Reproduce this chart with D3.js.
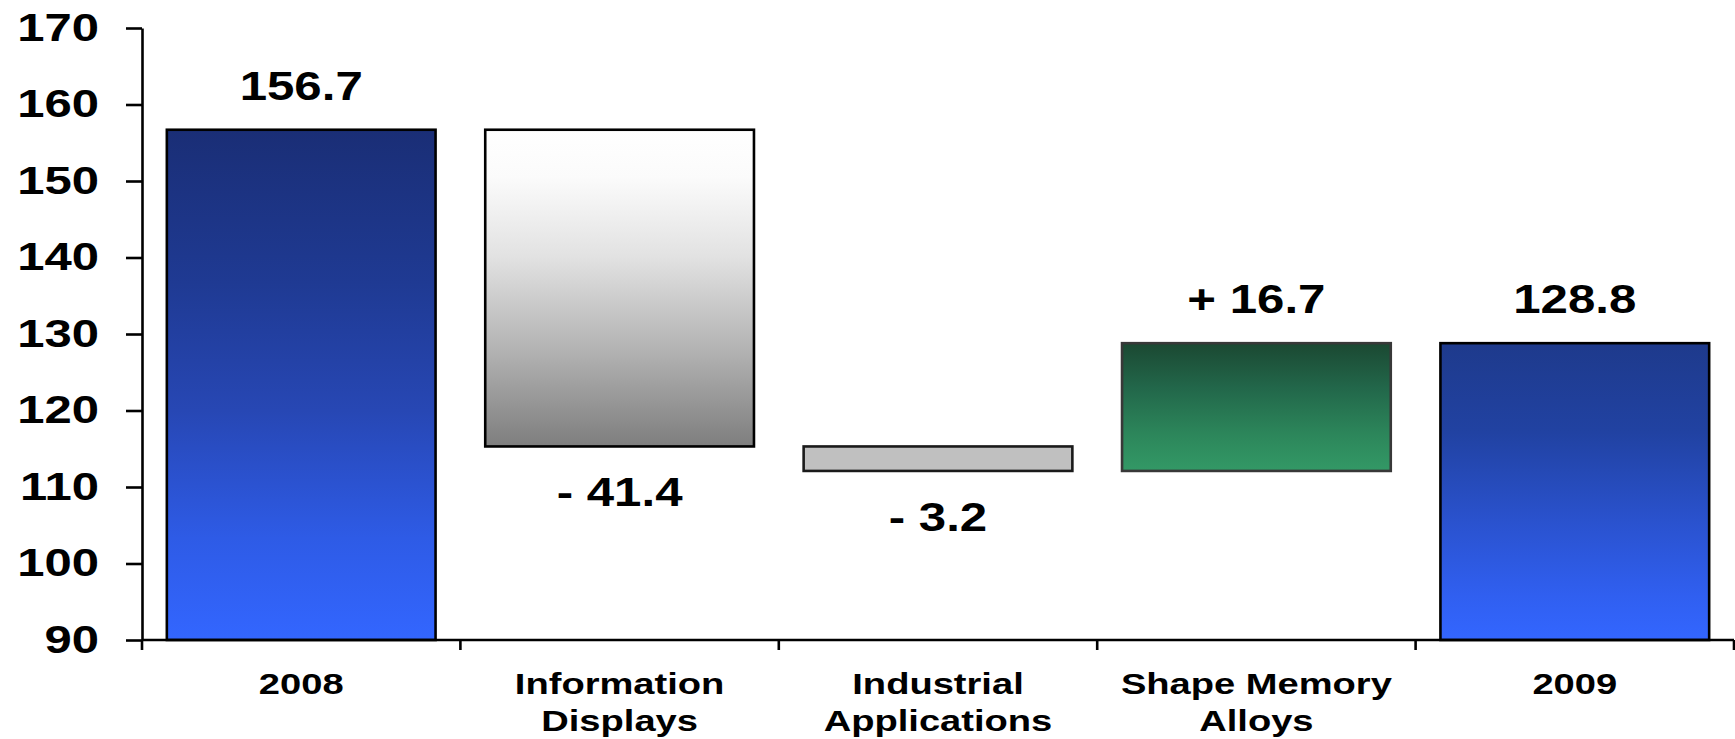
<!DOCTYPE html>
<html>
<head>
<meta charset="utf-8">
<script src="https://cdn.jsdelivr.net/npm/d3@7"></script>
<style>
  html, body { margin: 0; padding: 0; background: #ffffff; }
  svg { display: block; }
  text { font-family: "Liberation Sans", Arial, sans-serif; font-weight: bold; fill: #000; }
</style>
</head>
<body>
<script>
// ---- data ----
const categories = ["2008", "Information Displays", "Industrial Applications", "Shape Memory Alloys", "2009"];
const values = [156.7, -41.4, -3.2, 16.7, 128.8];
const kinds = ["total", "delta", "delta", "delta", "total"];
const yTicks = [90, 100, 110, 120, 130, 140, 150, 160, 170];

// ---- layout ----
const W = 1735, H = 739;
const plotLeft = 142, plotRight = 1734, plotTop = 28, plotBottom = 640;

const svg = d3.select("body").append("svg").attr("width", W).attr("height", H);
const defs = svg.append("defs");

function grad(id, stops) {
  const g = defs.append("linearGradient").attr("id", id)
    .attr("x1", 0).attr("y1", 0).attr("x2", 0).attr("y2", 1);
  stops.forEach(s => g.append("stop").attr("offset", s[0]).attr("stop-color", s[1]));
}
grad("gBlue", [[0, "#1A2E76"], [0.3, "#1F3A93"], [0.55, "#2747B4"], [0.8, "#2E5BE6"], [1, "#3366FF"]]);
grad("gBlue2", [[0, "#1E3A8C"], [0.3, "#2142A2"], [0.6, "#2A52CE"], [0.85, "#305FF0"], [1, "#3366FF"]]);
grad("gGray", [[0, "#FFFFFF"], [0.15, "#FBFBFB"], [0.4, "#E2E2E2"], [0.7, "#B2B2B2"], [1, "#7E7E7E"]]);
grad("gGreen", [[0, "#1B4832"], [0.35, "#22674A"], [0.7, "#2C855A"], [1, "#339966"]]);

const barStyle = {
  "2008": { fill: "url(#gBlue)", stroke: "#000" },
  "Information Displays": { fill: "url(#gGray)", stroke: "#000" },
  "Industrial Applications": { fill: "#C0C0C0", stroke: "#1A1A1A" },
  "Shape Memory Alloys": { fill: "url(#gGreen)", stroke: "#383838" },
  "2009": { fill: "url(#gBlue2)", stroke: "#000" }
};

// ---- waterfall computation ----
let run = 0;
const bars = categories.map((c, i) => {
  let lo, hi, label;
  if (kinds[i] === "total") {
    run = values[i];
    lo = null; hi = values[i];
    label = values[i].toFixed(1);
  } else {
    const start = run; run = run + values[i];
    lo = Math.min(start, run); hi = Math.max(start, run);
    label = (values[i] < 0 ? "- " : "+ ") + Math.abs(values[i]).toFixed(1);
  }
  return { cat: c, kind: kinds[i], v: values[i], lo, hi, label };
});

const y = d3.scaleLinear().domain([yTicks[0], yTicks[yTicks.length - 1]]).range([plotBottom, plotTop]);
const x = d3.scaleBand().domain(categories).range([plotLeft, plotRight]).paddingInner(0.156).paddingOuter(0.078);

// ---- bars ----
svg.append("g").selectAll("rect").data(bars).join("rect")
  .attr("x", d => x(d.cat))
  .attr("width", x.bandwidth())
  .attr("y", d => y(d.hi))
  .attr("height", d => y(d.lo === null ? y.domain()[0] : d.lo) - y(d.hi))
  .attr("fill", d => barStyle[d.cat].fill)
  .attr("stroke", d => barStyle[d.cat].stroke)
  .attr("stroke-width", 2.6);

// ---- value labels ----
svg.append("g").selectAll("g").data(bars).join("g")
  .attr("transform", d => {
    const cx = x(d.cat) + x.bandwidth() / 2;
    const yy = d.v < 0 ? y(d.lo) + 60 : y(d.hi) - 30;
    return `translate(${cx},${yy})`;
  })
  .append("text")
  .attr("text-anchor", "middle")
  .attr("font-size", 40)
  .attr("transform", "scale(1.23,1)")
  .text(d => d.label);

// ---- y axis ----
const yAxis = svg.append("g").attr("transform", `translate(${plotLeft},0)`)
  .call(d3.axisLeft(y).tickValues(yTicks).tickSize(16).tickSizeOuter(0).tickFormat(d3.format("d")));
yAxis.select(".domain").attr("stroke", "#000").attr("stroke-width", 2.6);
yAxis.selectAll(".tick line").attr("stroke", "#000").attr("stroke-width", 2.6);
yAxis.selectAll(".tick text")
  .attr("x", 0)
  .attr("font-size", 38)
  .attr("font-family", "Liberation Sans, Arial, sans-serif")
  .attr("font-weight", "bold")
  .attr("fill", "#000")
  .attr("text-anchor", "end")
  .attr("transform", "translate(-43,0) scale(1.29,1)");

// ---- x axis (ticks at category boundaries) ----
const boundaries = d3.range(categories.length + 1).map(i => x.range()[0] + i * x.step());
const xAxis = svg.append("g");
xAxis.append("line")
  .attr("x1", plotLeft).attr("x2", plotRight).attr("y1", y(yTicks[0])).attr("y2", y(yTicks[0]))
  .attr("stroke", "#000").attr("stroke-width", 2.6);
xAxis.selectAll("line.tick").data(boundaries).join("line").attr("class", "tick")
  .attr("x1", d => d).attr("x2", d => d)
  .attr("y1", y(yTicks[0])).attr("y2", y(yTicks[0]) + 10)
  .attr("stroke", "#000").attr("stroke-width", 2.6);

function splitLabel(s) {
  const w = s.split(" ");
  if (w.length === 1) return [s];
  return [w.slice(0, -1).join(" "), w[w.length - 1]];
}
const catG = xAxis.selectAll("g.cat").data(categories).join("g").attr("class", "cat")
  .attr("transform", c => `translate(${x(c) + x.bandwidth() / 2},${y(yTicks[0]) + 54})`);
catG.append("text")
  .attr("text-anchor", "middle")
  .attr("font-size", 30)
  .attr("transform", "scale(1.27,1)")
  .selectAll("tspan").data(c => splitLabel(c)).join("tspan")
  .attr("x", 0)
  .attr("dy", (d, i) => i === 0 ? 0 : 37)
  .text(d => d);
</script>
</body>
</html>
